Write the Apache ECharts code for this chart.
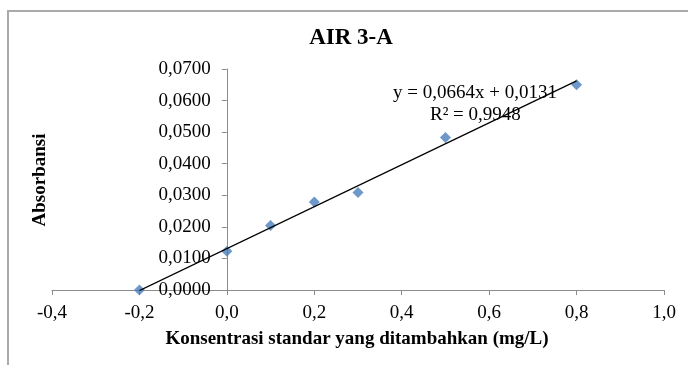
<!DOCTYPE html>
<html>
<head>
<meta charset="utf-8">
<script src="https://cdn.jsdelivr.net/npm/echarts@6/dist/echarts.min.js"></script>
<style>html,body{margin:0;padding:0;background:#fff}#c{width:688px;height:365px}</style>
</head>
<body>
<div id="c"></div>
<script>
var xValues = [-0.2, 0.0, 0.1, 0.2, 0.3, 0.5, 0.8];
var yValues = [0.0000, 0.0123, 0.0204, 0.0279, 0.0309, 0.0483, 0.0650];
var slope = 0.0664;
var intercept = 0.0131;
var trendX = [-0.2, 0.8];
var titleText = 'AIR 3-A';
var xTitle = 'Konsentrasi standar yang ditambahkan (mg/L)';
var yTitle = 'Absorbansi';
var equationText = 'y = 0,0664x + 0,0131';
var r2Text = 'R² = 0,9948';

var points = xValues.map(function (x, i) { return [x, yValues[i]]; });
var trend = trendX.map(function (x) { return [x, slope * x + intercept]; });

var serif = '"Liberation Serif", "Times New Roman", serif';
var gridLeft = 52;
var chart = echarts.init(document.getElementById('c'));
chart.setOption({
  animation: false,
  grid: { left: gridLeft, right: 24, top: 69, bottom: 75, outerBoundsMode: 'none', containLabel: false },
  xAxis: {
    type: 'value', min: -0.4, max: 1.0, interval: 0.2,
    axisLine: { onZero: false, lineStyle: { color: '#8c8c8c', width: 1 } },
    axisTick: { show: true, length: 5, lineStyle: { color: '#8c8c8c' } },
    axisLabel: {
      fontFamily: serif, fontSize: 19, color: '#000', margin: 14,
      formatter: function (v) { return v.toFixed(1).replace('.', ','); }
    },
    splitLine: { show: false }
  },
  yAxis: {
    type: 'value', min: 0, max: 0.07, interval: 0.01,
    axisLine: { show: true, onZero: false, lineStyle: { color: '#8c8c8c', width: 1 } },
    axisTick: { show: true, length: 5, lineStyle: { color: '#8c8c8c' } },
    axisLabel: {
      fontFamily: serif, fontSize: 19, color: '#000', margin: 16,
      formatter: function (v) { return v.toFixed(4).replace('.', ','); }
    },
    splitLine: { show: false }
  },
  graphic: [
    { type: 'rect', shape: { x: 8, y: 11, width: 720, height: 400 },
      style: { fill: 'none', stroke: '#aaaaaa', lineWidth: 2 }, silent: true, z: -1 },
    { type: 'text', x: 351, y: 38,
      style: { text: titleText, font: 'bold 23px ' + serif, fill: '#000', textAlign: 'center', textVerticalAlign: 'middle' }, z: 10 },
    { type: 'text', x: 357, y: 339,
      style: { text: xTitle, font: 'bold 19px ' + serif, fill: '#000', textAlign: 'center', textVerticalAlign: 'middle' }, z: 10 },
    { type: 'text', x: 40, y: 180, rotation: Math.PI / 2,
      style: { text: yTitle, font: 'bold 19px ' + serif, fill: '#000', textAlign: 'center', textVerticalAlign: 'middle' }, z: 10 },
    { type: 'text', x: 393, y: 93,
      style: { text: equationText, font: '19px ' + serif, fill: '#000', textAlign: 'left', textVerticalAlign: 'middle' }, z: 10 },
    { type: 'text', x: 430, y: 115,
      style: { text: r2Text, font: '19px ' + serif, fill: '#000', textAlign: 'left', textVerticalAlign: 'middle' }, z: 10 }
  ],
  series: [
    {
      type: 'line', data: trend, showSymbol: false, symbol: 'none',
      lineStyle: { color: '#000', width: 1.3 }, z: 3
    },
    {
      type: 'scatter', data: points, symbol: 'diamond', symbolSize: 11,
      itemStyle: { color: '#4a7ebb' }, z: 2
    }
  ]
});
// Place the y axis (line, ticks and labels) at x = 0, using the library's own scale
var zeroPx = chart.convertToPixel({ xAxisIndex: 0 }, 0);
chart.setOption({ yAxis: { offset: -(zeroPx - gridLeft) } });
</script>
</body>
</html>
